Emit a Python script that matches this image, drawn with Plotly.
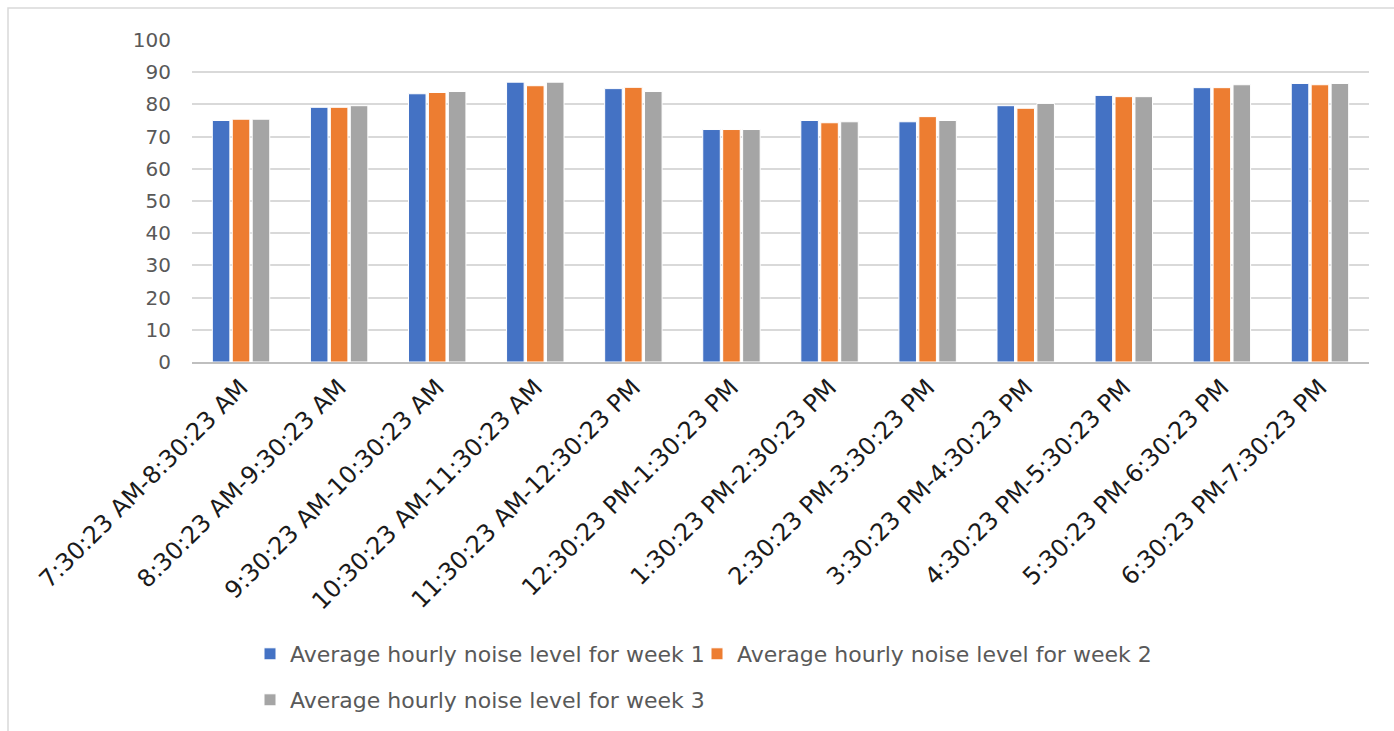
import plotly.graph_objects as go

# Hourly time windows
periods = [
    "7:30:23 AM-8:30:23 AM",
    "8:30:23 AM-9:30:23 AM",
    "9:30:23 AM-10:30:23 AM",
    "10:30:23 AM-11:30:23 AM",
    "11:30:23 AM-12:30:23 PM",
    "12:30:23 PM-1:30:23 PM",
    "1:30:23 PM-2:30:23 PM",
    "2:30:23 PM-3:30:23 PM",
    "3:30:23 PM-4:30:23 PM",
    "4:30:23 PM-5:30:23 PM",
    "5:30:23 PM-6:30:23 PM",
    "6:30:23 PM-7:30:23 PM",
]

# Average noise level (dB) per week
week1 = [75.0, 79.1, 83.3, 86.9, 84.9, 72.2, 75.0, 74.6, 79.6, 82.8, 85.2, 86.5]
week2 = [75.4, 79.1, 83.7, 85.8, 85.3, 72.2, 74.3, 76.2, 78.8, 82.4, 85.2, 86.1]
week3 = [75.4, 79.6, 84.0, 86.9, 84.0, 72.2, 74.6, 75.0, 80.3, 82.4, 86.1, 86.5]

series_names = [
    "Average hourly noise level for week 1",
    "Average hourly noise level for week 2",
    "Average hourly noise level for week 3",
]
colors = ["#4472C4", "#ED7D31", "#A5A5A5"]
legend_ids = ["legend", "legend2", "legend3"]

fig = go.Figure()
for name, vals, col, lg in zip(series_names, [week1, week2, week3], colors, legend_ids):
    fig.add_trace(go.Bar(
        x=periods, y=vals, name=name, legend=lg,
        marker=dict(color=col, line=dict(color="white", width=1)),
    ))

W, H = 1394, 731
L, R, T, B = 192, 25, 40, 369
pw = W - L - R
ph = H - T - B

FONT = "DejaVu Sans, Verdana, sans-serif"


def legend_at(px, py):
    # one legend entry placed at a pixel position (left edge, vertical centre)
    return dict(
        orientation="h",
        x=(px - L) / pw, xanchor="left",
        y=(T + ph - py) / ph, yanchor="middle",
        font=dict(family=FONT, size=22, color="#595959"),
        itemwidth=30,
        bgcolor="rgba(0,0,0,0)",
    )


fig.update_layout(
    width=W, height=H,
    margin=dict(l=L, r=R, t=T, b=B, autoexpand=False),
    paper_bgcolor="white",
    plot_bgcolor="white",
    barmode="group",
    bargap=0.39,
    bargroupgap=0.12,
    font=dict(family=FONT, color="#595959"),
    showlegend=True,
    legend=legend_at(250, 654),
    legend2=legend_at(697, 654),
    legend3=legend_at(250, 700),
    xaxis=dict(
        type="category",
        tickangle=-45,
        tickfont=dict(family=FONT, size=24, color="#1a1a1a"),
        showgrid=False,
        showline=True, linecolor="#BFBFBF", linewidth=1.5,
        ticks="",
    ),
    yaxis=dict(
        range=[0, 100],
        tickvals=list(range(0, 101, 10)),
        tickfont=dict(family=FONT, size=20, color="#595959"),
        showgrid=True, gridcolor="#D9D9D9", gridwidth=1.5,
        zeroline=False,
        showline=False,
        ticks="",
        ticklabelstandoff=20,
    ),
    shapes=[dict(
        type="rect", xref="paper", yref="paper",
        x0=(8 - L) / pw, x1=(W + 20 - L) / pw,
        y0=-(H + 20 - T - ph) / ph, y1=1 + (T - 8) / ph,
        line=dict(color="#D9D9D9", width=1.5),
        fillcolor="rgba(0,0,0,0)",
        layer="below",
    )],
)

fig.write_html("out.html")
